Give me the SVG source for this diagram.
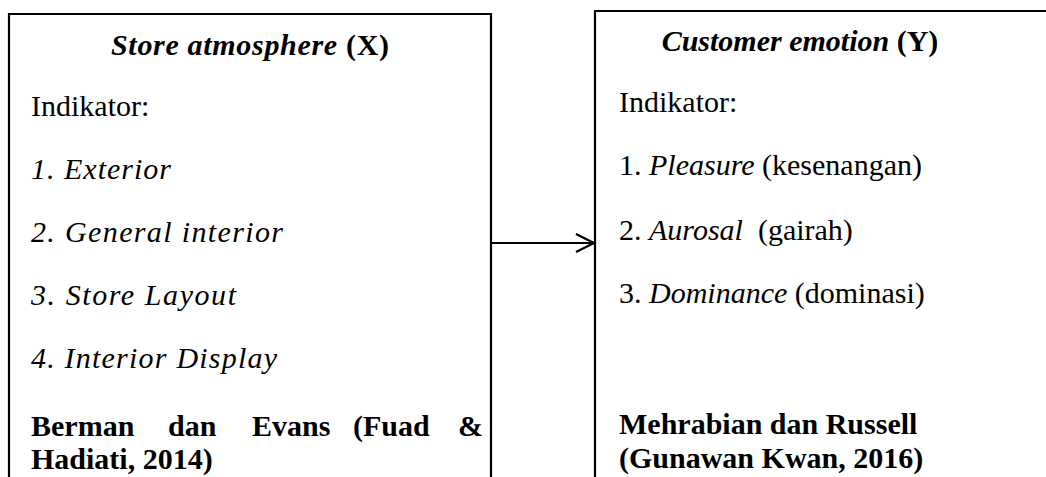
<svg xmlns="http://www.w3.org/2000/svg" width="1046" height="477" viewBox="0 0 1046 477">
<defs>
<style>
.box{fill:none;stroke:#000;stroke-width:2.2}
.t{font-family:"Liberation Serif","Times New Roman",serif;font-size:30px;fill:#000}
.i{font-style:italic}
.b{font-weight:bold}
.conn{stroke:#000;stroke-width:2.2;fill:none}
</style>
<marker id="arr" markerWidth="24" markerHeight="24" refX="19" refY="10" orient="auto" markerUnits="userSpaceOnUse">
<path d="M1,1 L19,10 L1,19" fill="none" stroke="#000" stroke-width="2.2"/>
</marker>
</defs>
<rect width="1046" height="477" fill="#fff"/>
<g id="store-atmosphere">
<path class="box" d="M9,480 L9,14 L491,14 L491,480"/>
<text class="t b" x="111" y="55" textLength="278" lengthAdjust="spacing"><tspan class="i">Store atmosphere</tspan> (X)</text>
<text class="t" x="31" y="116">Indikator:</text>
<text class="t i" x="31" y="179" textLength="140" lengthAdjust="spacing">1. Exterior</text>
<text class="t i" x="31" y="242" textLength="252" lengthAdjust="spacing">2. General interior</text>
<text class="t i" x="31" y="305" textLength="205" lengthAdjust="spacing">3. Store Layout</text>
<text class="t i" x="31" y="368" textLength="246" lengthAdjust="spacing">4. Interior Display</text>
<text class="t b" y="436"><tspan x="31">Berman</tspan><tspan x="168">dan</tspan><tspan x="252">Evans</tspan><tspan x="353">(Fuad</tspan><tspan x="458">&amp;</tspan></text>
<text class="t b" x="31" y="469">Hadiati, 2014)</text>
</g>
<g id="customer-emotion">
<path class="box" d="M595,480 L595,11 L1050,11"/>
<text class="t b" x="800" y="51" text-anchor="middle"><tspan class="i">Customer emotion</tspan> (Y)</text>
<text class="t" x="619" y="112">Indikator:</text>
<text class="t" x="619" y="175">1. <tspan class="i">Pleasure</tspan> (kesenangan)</text>
<text class="t" x="619" y="240">2. <tspan class="i">Aurosal</tspan>&#160; (gairah)</text>
<text class="t" x="619" y="303">3. <tspan class="i">Dominance</tspan> (dominasi)</text>
<text class="t b" x="619" y="434">Mehrabian dan Russell</text>
<text class="t b" x="619" y="468">(Gunawan Kwan, 2016)</text>
</g>
<g id="connectors">
<line class="conn" x1="491" y1="243" x2="594" y2="243" marker-end="url(#arr)"/>
</g>
</svg>
